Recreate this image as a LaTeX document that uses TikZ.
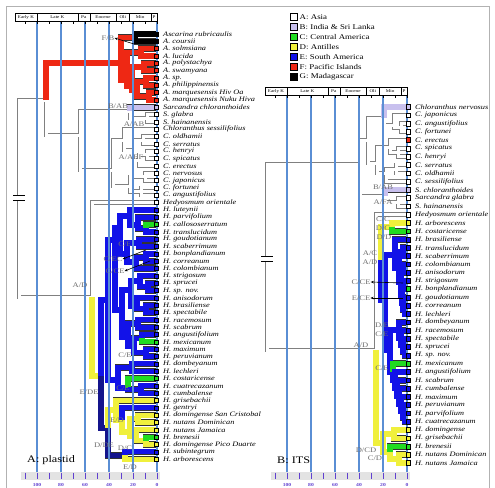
\documentclass[tikz,border=0pt]{standalone}
\usepackage{fontspec}
\setmainfont{Liberation Serif}
\newfontfamily\tx{Liberation Serif}[FakeStretch=1.22]
\usetikzlibrary{arrows.meta}
\definecolor{cB}{HTML}{C8C0EE}
\definecolor{cC}{HTML}{20DC20}
\definecolor{cD}{HTML}{F0F03C}
\definecolor{cE}{HTML}{1212E8}
\definecolor{cF}{HTML}{EE2814}
\definecolor{cN}{HTML}{14148C}
\definecolor{vl}{HTML}{5A8ED4}
\definecolor{cP}{HTML}{6040D0}
\definecolor{lb}{HTML}{6E6E6E}
\newcommand\BrO[3]{\draw[o#3] (#1) |- (#2);}
\newcommand\BrF[3]{\draw[f#3] (#1) |- (#2);}
\newcommand\TreeA[1]{%
#1{Ra}{N1}{W}#1{N1}{Asc}{R}#1{Asc}{AscG}{R}#1{AscG}{a1}{K}#1{AscG}{a2}{K}%
#1{Asc}{AscF}{R}#1{AscF}{AscF1}{R}#1{AscF1}{a3}{R}#1{AscF1}{a4}{R}%
#1{AscF}{AscF2}{R}#1{AscF2}{AscF3}{R}#1{AscF3}{a5}{R}#1{AscF3}{a6}{R}%
#1{AscF2}{AscF4}{R}#1{AscF4}{AscF5}{R}#1{AscF5}{a7}{R}#1{AscF5}{a8}{R}%
#1{AscF4}{AscF6}{R}#1{AscF6}{a9}{R}#1{AscF6}{a10}{R}%
#1{N1}{ChSa}{W}#1{ChSa}{Sar}{W}#1{Sar}{a11}{L}#1{Sar}{Sg}{W}#1{Sg}{a12}{W}#1{Sg}{a13}{W}%
#1{ChSa}{Chl}{W}#1{Chl}{Cx}{W}#1{Cx}{a14}{W}#1{Cx}{Cx2}{W}#1{Cx2}{Cx3}{W}#1{Cx3}{a15}{W}#1{Cx3}{a16}{W}%
#1{Cx2}{Cx4}{W}#1{Cx4}{Cx5}{W}#1{Cx5}{a17}{W}#1{Cx5}{a18}{W}#1{Cx4}{a19}{W}%
#1{Chl}{Cy}{W}#1{Cy}{Cy1}{W}#1{Cy1}{a20}{W}#1{Cy1}{a21}{W}#1{Cy}{Cy2}{W}#1{Cy2}{a22}{W}#1{Cy2}{a23}{W}%
#1{Ra}{H0}{W}#1{H0}{a24}{W}#1{H0}{H1}{Y}#1{H1}{Mn}{U}#1{Mn}{M1}{U}#1{M1}{M1a}{U}%
#1{M1a}{M1a1}{U}#1{M1a1}{a25}{U}#1{M1a1}{M1a1b}{U}#1{M1a1b}{a26}{U}#1{M1a1b}{M1a1c}{U}#1{M1a1c}{a27}{G}#1{M1a1c}{a28}{U}%
#1{M1a}{M1a2}{U}#1{M1a2}{M1a2a}{U}#1{M1a2a}{a29}{U}#1{M1a2a}{a30}{U}#1{M1a2}{M1a2b}{U}#1{M1a2b}{M1a2c}{U}#1{M1a2c}{a31}{U}#1{M1a2c}{a32}{U}#1{M1a2b}{a33}{U}%
#1{M1}{M1b}{U}#1{M1b}{M1b1}{U}#1{M1b1}{P1}{U}#1{P1}{a34}{U}#1{P1}{P2}{U}#1{P2}{a35}{U}#1{P2}{a36}{U}%
#1{M1b1}{P3}{U}#1{P3}{a37}{U}#1{P3}{P4}{U}#1{P4}{a38}{U}#1{P4}{a39}{U}%
#1{M1b}{M1b2}{U}#1{M1b2}{Q1}{U}#1{Q1}{a40}{U}#1{Q1}{a41}{U}#1{M1b2}{Q2}{U}#1{Q2}{Q3}{U}#1{Q3}{a42}{U}#1{Q3}{a43}{G}%
#1{Q2}{Q4}{U}#1{Q4}{a44}{U}#1{Q4}{a45}{U}%
#1{Mn}{M2}{U}#1{M2}{M2a}{U}#1{M2a}{a46}{U}#1{M2a}{a47}{U}#1{M2}{M2b}{U}#1{M2b}{a48}{G}#1{M2b}{M2c}{U}#1{M2c}{a49}{U}#1{M2c}{a50}{U}%
#1{H1}{An}{N}#1{An}{An1}{Y}#1{An1}{a51}{Y}#1{An1}{An1b}{Y}#1{An1b}{a52}{U}#1{An1b}{An1c}{Y}%
#1{An1c}{An1d}{Y}#1{An1d}{a53}{Y}#1{An1d}{a54}{Y}#1{An1c}{An1e}{Y}#1{An1e}{a55}{Y}#1{An1e}{An1f}{Y}#1{An1f}{a56}{G}#1{An1f}{a57}{Y}%
#1{An}{An2}{N}#1{An2}{a58}{U}#1{An2}{a59}{Y}%
}
\newcommand\TreeB[1]{%
#1{Rb}{Bc}{W}#1{Bc}{ChB}{W}#1{ChB}{Cb1}{W}#1{Cb1}{b1}{L}#1{Cb1}{Cb1a}{W}#1{Cb1a}{b2}{W}#1{Cb1a}{Cb1b}{W}#1{Cb1b}{b3}{W}#1{Cb1b}{b4}{W}%
#1{ChB}{Cb2}{W}#1{Cb2}{Cb2a}{W}#1{Cb2a}{b5}{W}#1{Cb2a}{Cb2b}{W}#1{Cb2b}{b6}{W}#1{Cb2b}{b7}{W}%
#1{Cb2}{Cb2c}{W}#1{Cb2c}{Cb2d}{W}#1{Cb2d}{b8}{W}#1{Cb2d}{b9}{W}#1{Cb2c}{b10}{W}%
#1{Bc}{SaB}{W}#1{SaB}{b11}{L}#1{SaB}{SaB1}{W}#1{SaB1}{b12}{W}#1{SaB1}{b13}{W}%
#1{Rb}{Hs}{W}#1{Hs}{b14}{W}#1{Hs}{Hu}{W}#1{Hu}{Hu1}{Y}#1{Hu1}{b15}{Y}#1{Hu1}{b16}{G}%
#1{Hu}{Hu2}{U}#1{Hu2}{Ba}{U}#1{Ba}{b17}{U}#1{Ba}{Ba2}{U}#1{Ba2}{Ba3}{U}#1{Ba3}{b18}{U}#1{Ba3}{b19}{U}%
#1{Ba2}{Ba4}{U}#1{Ba4}{Ba5}{U}#1{Ba5}{b20}{U}#1{Ba5}{b21}{U}#1{Ba4}{Ba6}{U}#1{Ba6}{Ba7}{U}#1{Ba7}{b22}{U}#1{Ba7}{b23}{U}%
#1{Ba6}{Ba8}{U}#1{Ba8}{b24}{U}#1{Ba8}{Ba9}{U}#1{Ba9}{b25}{U}#1{Ba9}{b26}{U}%
#1{Hu2}{Bb}{U}#1{Bb}{Bb1}{U}#1{Bb1}{b27}{U}#1{Bb1}{Bb2}{U}#1{Bb2}{b28}{U}#1{Bb2}{Bb3}{U}#1{Bb3}{b29}{U}#1{Bb3}{Bb4}{U}#1{Bb4}{b30}{U}#1{Bb4}{b31}{U}%
#1{Bb}{Bb5}{U}#1{Bb5}{b32}{G}#1{Bb5}{Bb6}{U}#1{Bb6}{b33}{U}#1{Bb6}{Bb7}{U}#1{Bb7}{b34}{U}#1{Bb7}{Bb8}{U}#1{Bb8}{b35}{U}%
#1{Bb8}{Bb9}{U}#1{Bb9}{b36}{U}#1{Bb9}{Bb10}{U}#1{Bb10}{b37}{U}#1{Bb10}{Bb11}{U}#1{Bb11}{b38}{U}#1{Bb11}{b39}{U}%
#1{Hs}{Hd}{Y}#1{Hd}{Hd1}{Y}#1{Hd1}{b40}{Y}#1{Hd1}{b41}{Y}#1{Hd}{Hd2}{Y}#1{Hd2}{b42}{G}#1{Hd2}{Hd3}{Y}#1{Hd3}{b43}{Y}#1{Hd3}{b44}{Y}%
}
\newcommand\TimeBar[1]{%
 \foreach \l/\r in {15/37,37/77.8,77.8/89.8,89.8/116.2,116.2/129.4,129.4/151,151/157}
   \draw[line width=0.6pt] (\l,13) rectangle (\r,21);
 \draw[line width=1.1pt] (15,21.6) -- (157,21.6);
 \foreach \x in {25,37,...,157} \draw[line width=0.6pt] (\x,21) -- (\x,23.8);
 \node[bt] (#1ek) at (26,17) {Early K};
 \node[bt] (#1lk) at (57.4,17) {Late K};
 \node[bt] (#1pa) at (83.8,17) {Pa};
 \node[bt] (#1eo) at (103,17) {Eocene};
 \node[bt] (#1ol) at (122.8,17) {Oli};
 \node[bt] (#1mi) at (140.2,17) {Mio};
 \node[bt] (#1pl) at (154,17) {P};
}
\newcommand\TimeAxis[1]{%
 \fill[black!11] (21,472) rectangle (160,480);
 \foreach \x in {25,37,...,157} \draw[cP,line width=1pt] (\x,472.5) -- (\x,479);
 \node[ax] (#1x100) at (37,484.5) {100};
 \node[ax] (#1x80) at (61,484.5) {80};
 \node[ax] (#1x60) at (85,484.5) {60};
 \node[ax] (#1x40) at (109,484.5) {40};
 \node[ax] (#1x20) at (133,484.5) {20};
 \node[ax] (#1x0) at (157,484.5) {0};
}
\begin{document}
\begin{tikzpicture}[x=1pt,y=-1pt,
  declare function={ra(\t)=34+7.33*(\t-1); rb(\t)=107+8.28*(\t-1);},
  oW/.style={draw=black!50,line width=4.4pt},
  fW/.style={draw=white,line width=3pt},
  oC/.style={draw=black!80,line width=6.6pt},
  oR/.style={oC},oK/.style={oC},oL/.style={oC},oG/.style={oC},oY/.style={oC},oU/.style={oC},oN/.style={oC},
  fR/.style={draw=cF,line width=5.2pt},
  fK/.style={draw=black,line width=5.2pt},
  fL/.style={draw=cB,line width=5.2pt},
  fG/.style={draw=cC,line width=5.2pt},
  fY/.style={draw=cD,line width=5.2pt},
  fU/.style={draw=cE,line width=5.2pt},
  fN/.style={draw=cN,line width=5.2pt},
  sqW/.style={fill=white,draw=black,line width=0.6pt},
  sqL/.style={fill=cB,draw=black,line width=0.6pt},
  sqG/.style={fill=cC,draw=black,line width=0.6pt},
  sqY/.style={fill=cD,draw=black,line width=0.6pt},
  sqU/.style={fill=cE,draw=black,line width=0.6pt},
  sqR/.style={fill=cF,draw=black,line width=0.6pt},
  sqK/.style={fill=black,draw=black,line width=0.6pt},
  tax/.style={font=\tx\itshape\fontsize{6.8}{7}\selectfont,anchor=west,inner sep=0pt},
  lab/.style={font=\tx\fontsize{7}{7}\selectfont,text=lb,inner sep=0pt},
  bt/.style={font=\tx\fontsize{4.2}{4.2}\selectfont,inner sep=0pt},
  ax/.style={font=\tx\bfseries\fontsize{4.6}{4.6}\selectfont,text=cP,inner sep=0pt},
  leg/.style={font=\tx\fontsize{7.3}{7.3}\selectfont,anchor=west,inner sep=0pt},
  pan/.style={font=\tx\fontsize{10}{10}\selectfont,anchor=west,inner sep=0pt},
  vline/.style={draw=vl,line width=1.1pt},
  arr/.style={-{Stealth[length=3.2pt,width=2.6pt]},line width=0.6pt,black}]
\useasboundingbox (0,0) rectangle (495,487);
\fill[white] (0,0) rectangle (495,487);
\draw[black!30,line width=0.6pt] (6,6) rectangle (489,492);
% ---------- tips
\foreach \k in {1,...,59} \coordinate (a\k) at (157,{ra(\k)});
\foreach \k in {1,...,44} \coordinate (b\k) at (407,{rb(\k)});
% ---------- internal nodes panel A
\coordinate (Ra) at (19,200);
\coordinate (N1) at (46,100);
\coordinate (Asc) at (121,63);
\coordinate (AscG) at (135,{ra(1.5)});
\coordinate (AscF) at (127,80);
\coordinate (AscF1) at (141,{ra(3.5)});
\coordinate (AscF2) at (132,86);
\coordinate (AscF3) at (144,{ra(5.5)});
\coordinate (AscF4) at (137,90);
\coordinate (AscF5) at (146,{ra(7.5)});
\coordinate (AscF6) at (149,{ra(9.5)});
\coordinate (ChSa) at (80,135);
\coordinate (Sar) at (130,111);
\coordinate (Sg) at (147,{ra(12.5)});
\coordinate (Chl) at (113,170);
\coordinate (Cx) at (124,140);
\coordinate (Cx2) at (134,150);
\coordinate (Cx3) at (143,{ra(15.5)});
\coordinate (Cx4) at (139,160);
\coordinate (Cx5) at (147,{ra(17.5)});
\coordinate (Cy) at (130,186);
\coordinate (Cy1) at (145,{ra(20.5)});
\coordinate (Cy2) at (141,{ra(22.5)});
\coordinate (H0) at (92,297);
\coordinate (H1) at (101,376);
\coordinate (Mn) at (108,300);
\coordinate (M1) at (115,240);
\coordinate (M1a) at (120,228);
\coordinate (M1a1) at (130,216);
\coordinate (M1a1b) at (138,225);
\coordinate (M1a1c) at (146,{ra(27.5)});
\coordinate (M1a2) at (127,254);
\coordinate (M1a2a) at (139,{ra(29.5)});
\coordinate (M1a2b) at (136,262);
\coordinate (M1a2c) at (146,{ra(31.5)});
\coordinate (M1b) at (122,310);
\coordinate (M1b1) at (131,290);
\coordinate (P1) at (140,281);
\coordinate (P2) at (148,{ra(35.5)});
\coordinate (P3) at (137,306);
\coordinate (P4) at (146,{ra(38.5)});
\coordinate (M1b2) at (128,337);
\coordinate (Q1) at (138,{ra(40.5)});
\coordinate (Q2) at (134,346);
\coordinate (Q3) at (142,{ra(42.5)});
\coordinate (Q4) at (146,{ra(44.5)});
\coordinate (M2) at (118,380);
\coordinate (M2a) at (132,{ra(46.5)});
\coordinate (M2b) at (128,388);
\coordinate (M2c) at (141,{ra(49.5)});
\coordinate (An) at (108,428);
\coordinate (An1) at (116,410);
\coordinate (An1b) at (122,420);
\coordinate (An1c) at (130,432);
\coordinate (An1d) at (138,{ra(53.5)});
\coordinate (An1e) at (136,436);
\coordinate (An1f) at (146,{ra(56.5)});
\coordinate (An2) at (125,{ra(58.5)});
% ---------- internal nodes panel B
\coordinate (Rb) at (267,259);
\coordinate (Bc) at (360,164);
\coordinate (ChB) at (368,140);
\coordinate (Cb1) at (384,118);
\coordinate (Cb1a) at (394,125);
\coordinate (Cb1b) at (401,{rb(3.5)});
\coordinate (Cb2) at (377,163);
\coordinate (Cb2a) at (390,147);
\coordinate (Cb2b) at (398,{rb(6.5)});
\coordinate (Cb2c) at (386,173);
\coordinate (Cb2d) at (396,{rb(8.5)});
\coordinate (SaB) at (385,196);
\coordinate (SaB1) at (398,{rb(12.5)});
\coordinate (Hs) at (376,350);
\coordinate (Hu) at (381,260);
\coordinate (Hu1) at (392,{rb(15.5)});
\coordinate (Hu2) at (385,300);
\coordinate (Ba) at (395,255);
\coordinate (Ba2) at (399,268);
\coordinate (Ba3) at (403,{rb(18.5)});
\coordinate (Ba4) at (401,282);
\coordinate (Ba5) at (404,{rb(20.5)});
\coordinate (Ba6) at (402,295);
\coordinate (Ba7) at (405,{rb(22.5)});
\coordinate (Ba8) at (403,303);
\coordinate (Ba9) at (405,{rb(25.5)});
\coordinate (Bb) at (390,350);
\coordinate (Bb1) at (399,330);
\coordinate (Bb2) at (401,338);
\coordinate (Bb3) at (403,345);
\coordinate (Bb4) at (405,{rb(30.5)});
\coordinate (Bb5) at (393,372);
\coordinate (Bb6) at (395,380);
\coordinate (Bb7) at (397,388);
\coordinate (Bb8) at (399,396);
\coordinate (Bb9) at (401,404);
\coordinate (Bb10) at (403,411);
\coordinate (Bb11) at (405,{rb(38.5)});
\coordinate (Hd) at (383,443);
\coordinate (Hd1) at (394,{rb(40.5)});
\coordinate (Hd2) at (390,452);
\coordinate (Hd3) at (399,{rb(43.5)});
% ---------- trees: outline pass then fill pass
\TreeA\BrO
\TreeB\BrO
\TreeA\BrF
\TreeB\BrF
% ---------- break marks on the root stems
\fill[white] (13,195.5) rectangle (25,200.5);
\draw[line width=0.8pt] (13,195.8) -- (25,195.8) (13,200.2) -- (25,200.2);
\fill[white] (261,256.5) rectangle (273,261.5);
\draw[line width=0.8pt] (261,256.8) -- (273,256.8) (261,261.2) -- (273,261.2);
% ---------- time lines
\foreach \x in {37,61,...,157} \draw[vline] (\x,21) -- (\x,472);
\foreach \x in {287,311,...,407} \draw[vline] (\x,95) -- (\x,472);
% ---------- tips: squares and names, panel A
\foreach \k/\cc/\nm in {1/K/Ascarina rubricaulis, 2/K/A. coursii, 3/R/A. solmsiana, 4/R/A. lucida,
 5/R/A. polystachya, 6/R/A. swamyana, 7/R/A. sp., 8/R/A. philippinensis, 9/R/A. marquesensis Hiv Oa,
 10/R/A. marquesensis Nuku Hiva, 11/L/Sarcandra chloranthoides, 12/W/S. glabra, 13/W/S. hainanensis,
 14/W/Chloranthus sessilifolius, 15/W/C. oldhamii, 16/W/C. serratus, 17/W/C. henryi, 18/W/C. spicatus,
 19/W/C. erectus, 20/W/C. nervosus, 21/W/C. japonicus, 22/W/C. fortunei, 23/W/C. angustifolius,
 24/W/Hedyosmum orientale, 25/U/H. luteynii, 26/U/H. parvifolium, 27/G/H. callososerratum,
 28/U/H. translucidum, 29/U/H. goudotianum, 30/U/H. scaberrimum, 31/U/H. bonplandianum,
 32/U/H. correanum, 33/U/H. colombianum, 34/U/H. strigosum, 35/U/H. sprucei, 36/U/H. sp. nov.,
 37/U/H. anisodorum, 38/U/H. brasiliense, 39/U/H. spectabile, 40/U/H. racemosum, 41/U/H. scabrum,
 42/U/H. angustifolium, 43/G/H. mexicanum, 44/U/H. maximum, 45/U/H. peruvianum, 46/U/H. dombeyanum,
 47/U/H. lechleri, 48/G/H. costaricense, 49/U/H. cuatrecazanum, 50/U/H. cumbalense,
 51/Y/H. grisebachii, 52/U/H. gentryi, 53/Y/H. domingense San Cristobal, 54/Y/H. nutans Dominican,
 55/Y/H. nutans Jamaica, 56/G/H. brenesii, 57/Y/H. domingense Pico Duarte, 58/U/H. subintegrum,
 59/Y/H. arborescens}{
  \filldraw[sq\cc] (a\k) ++(-2.6,-2) rectangle ++(3.4,4);
  \node[tax] (ta\k) at (163,{ra(\k)}) {\nm};
}
% ---------- tips: squares and names, panel B
\foreach \k/\cc/\nm in {1/L/Chloranthus nervosus, 2/W/C. japonicus, 3/W/C. angustifolius, 4/W/C. fortunei,
 5/R/C. erectus, 6/W/C. spicatus, 7/W/C. henryi, 8/W/C. serratus, 9/W/C. oldhamii, 10/W/C. sessilifolius,
 11/L/S. chloranthoides, 12/W/Sarcandra glabra, 13/W/S. hainanensis, 14/W/Hedyosmum orientale,
 15/Y/H. arborescens, 16/G/H. costaricense, 17/U/H. brasiliense, 18/U/H. translucidum,
 19/U/H. scaberrimum, 20/U/H. colombianum, 21/U/H. anisodorum, 22/U/H. strigosum,
 23/G/H. bonplandianum, 24/U/H. goudotianum, 25/U/H. correanum, 26/U/H. lechleri, 27/U/H. dombeyanum,
 28/U/H. racemosum, 29/U/H. spectabile, 30/U/H. sprucei, 31/U/H. sp. nov., 32/G/H. mexicanum,
 33/U/H. angustifolium, 34/U/H. scabrum, 35/U/H. cumbalense, 36/U/H. maximum, 37/U/H. peruvianum,
 38/U/H. parvifolium, 39/U/H. cuatrecazanum, 40/Y/H. domingense, 41/Y/H. grisebachii,
 42/G/H. brenesii, 43/Y/H. nutans Dominican, 44/Y/H. nutans Jamaica}{
  \filldraw[sq\cc] (b\k) ++(-1,-2.4) rectangle ++(4.4,4.8);
  \node[tax] (tb\k) at (415,{rb(\k)}) {\nm};
}
% ---------- ancestral-area labels, panel A
\node[lab] (lFB) at (108,38) {F/B};
\node[lab] (lBAB) at (118,106) {B/AB};
\node[lab] (lAAB) at (134,124) {A/AB};
\node[lab] (lAAEF) at (131,157) {A/AEF};
\node[lab] (lCE1) at (125,244) {C/E};
\node[lab] (lCEC) at (113,259) {C/EC};
\node[lab] (lCCE) at (115,271) {C/CE};
\node[lab] (lAD) at (80,285) {A/D};
\node[lab] (lCE2) at (125,355) {C/E};
\node[lab] (lEDE) at (89,392) {E/DE};
\node[lab] (lCE3) at (123,388) {C/E};
\node[lab] (lED1) at (117,420) {E/D};
\node[lab] (lDDE) at (104,445) {D/DE};
\node[lab] (lDC) at (125,448) {D/C};
\node[lab] (lED2) at (130,467) {E/D};
\coordinate (tFB) at (134,44);
\coordinate (tCEC) at (146,250);
\coordinate (tCCE) at (150,261);
\draw[arr] (tFB) -- (lFB.east);
\draw[arr] (tCEC) -- (lCEC.east);
\draw[arr] (tCCE) -- (lCCE.east);
% ---------- ancestral-area labels, panel B
\node[lab] (mBAB) at (383,187) {B/AB};
\node[lab] (mAFA) at (383,202) {A/FA};
\node[lab] (mCC) at (383,219) {C/C};
\node[lab] (mDC) at (383,228) {D/C};
\node[lab] (mDD) at (384,237) {D/D};
\node[lab] (mAC) at (370,253) {A/C};
\node[lab] (mAD) at (370,262) {A/D};
\node[lab] (mCCE) at (361,282) {C/CE};
\node[lab] (mECE) at (361,298) {E/CE};
\node[lab] (mDE) at (382,325) {D/E};
\node[lab] (mCE) at (382,334) {C/E};
\node[lab] (mAD2) at (361,345) {A/D};
\node[lab] (mCE2) at (382,368) {C/E};
\node[lab] (mDCD) at (366,450) {D/CD};
\node[lab] (mCD) at (375,458) {C/D};
\coordinate (uCCE) at (403,283);
\coordinate (uECE) at (403,298);
\draw[arr] (uCCE) -- (mCCE.east);
\draw[arr] (uECE) -- (mECE.east);
% ---------- time bars and axes
\TimeBar{A}
\begin{scope}[shift={(250,74)}] \TimeBar{B} \end{scope}
\TimeAxis{A}
\begin{scope}[shift={(250,0)}] \TimeAxis{B} \end{scope}
% ---------- legend
\foreach \col/\txt [count=\i] in {white/A: Asia, cB/B: India \& Sri Lanka, cC/C: Central America,
  cD/D: Antilles, cE/E: South America, cF/F: Pacific Islands, black/G: Madagascar}{
  \pgfmathsetmacro\yy{17+10*(\i-1)}
  \filldraw[fill=\col,draw=black,line width=0.9pt] (290.5,\yy-3.3) rectangle (297.5,\yy+3.3);
  \node[leg] (lg\i) at (299.5,\yy) {\txt};
}
% ---------- panel titles
\node[pan] (tA) at (27,460) {A: plastid};
\node[pan] (tB) at (277,460) {B: ITS};
\end{tikzpicture}
\end{document}
